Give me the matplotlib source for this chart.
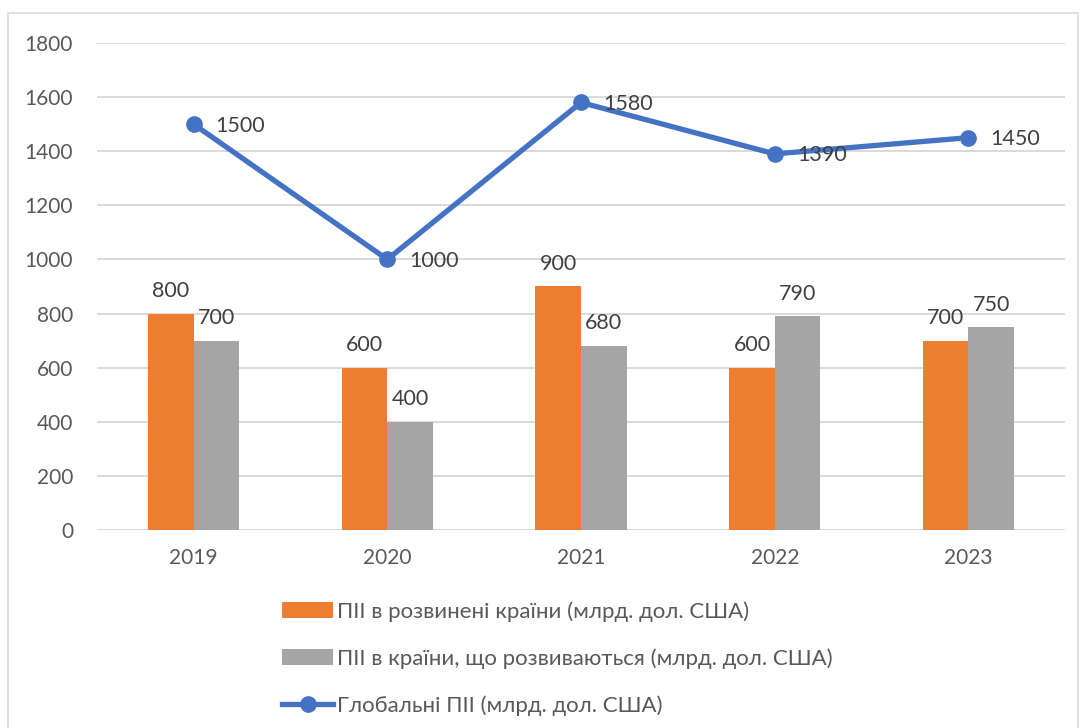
import numpy as np
import matplotlib.pyplot as plt
from matplotlib.patches import Rectangle

plt.rcParams['font.family'] = ['Lato', 'DejaVu Sans']

# Data
years = ['2019', '2020', '2021', '2022', '2023']
developed = [800, 600, 900, 600, 700]
developing = [700, 400, 680, 790, 750]
global_fdi = [1500, 1000, 1580, 1390, 1450]

lbl_dev = 'ПІІ в розвинені країни (млрд. дол. США)'
lbl_devg = 'ПІІ в країни, що розвиваються (млрд. дол. США)'
lbl_glob = 'Глобальні ПІІ (млрд. дол. США)'

text_col = '#595959'
c_orange = '#ED7D31'
c_gray = '#A5A5A5'
c_blue = '#4472C4'

fig = plt.figure(figsize=(10.86, 7.28), dpi=100)
ax = fig.add_axes([0.089, 0.272, 0.892, 0.669])

x = np.arange(len(years))
w = 0.235
b1 = ax.bar(x - w / 2, developed, w, color=c_orange, label=lbl_dev, zorder=2)
b2 = ax.bar(x + w / 2, developing, w, color=c_gray, label=lbl_devg, zorder=2)
ln, = ax.plot(x, global_fdi, color=c_blue, lw=3.8, marker='o', markersize=11,
              label=lbl_glob, zorder=3)

# data labels
for bars, vals in ((b1, developed), (b2, developing)):
    for r, v in zip(bars, vals):
        ax.annotate(str(v), (r.get_x() + r.get_width() / 2, v), xytext=(0, 9),
                    textcoords='offset points', ha='center', va='bottom',
                    fontsize=15.5, color='#404040')
for xi, v in zip(x, global_fdi):
    ax.annotate(str(v), (xi, v), xytext=(16, -1), textcoords='offset points',
                ha='left', va='center', fontsize=15.5, color='#404040')

ax.set_xlim(-0.5, len(years) - 0.5)
ax.set_ylim(0, 1800)
ax.set_yticks(np.arange(0, 1801, 200))
ax.set_xticks(x)
ax.set_xticklabels(years)
ax.tick_params(axis='both', length=0, labelsize=15, labelcolor=text_col)
ax.tick_params(axis='y', pad=17)
ax.tick_params(axis='x', pad=13)
ax.grid(axis='y', color='#D9D9D9', lw=1.4, zorder=0)
ax.set_axisbelow(True)
for s in ax.spines.values():
    s.set_visible(False)

fig.legend(handles=[b1, b2, ln], loc='upper left', bbox_to_anchor=(0.26, 0.174),
           frameon=False, fontsize=16, labelcolor=text_col, borderpad=0,
           borderaxespad=0, handlelength=2.3, handletextpad=0.15, labelspacing=1.18)

# outer chart border
fig.patches.append(Rectangle((8 / 1086, -0.01), 1070 / 1086, 1 - 13 / 728 + 0.01,
                             transform=fig.transFigure, fill=False,
                             edgecolor='#D9D9D9', lw=1.2))

fig.savefig('out.png', dpi=100)
